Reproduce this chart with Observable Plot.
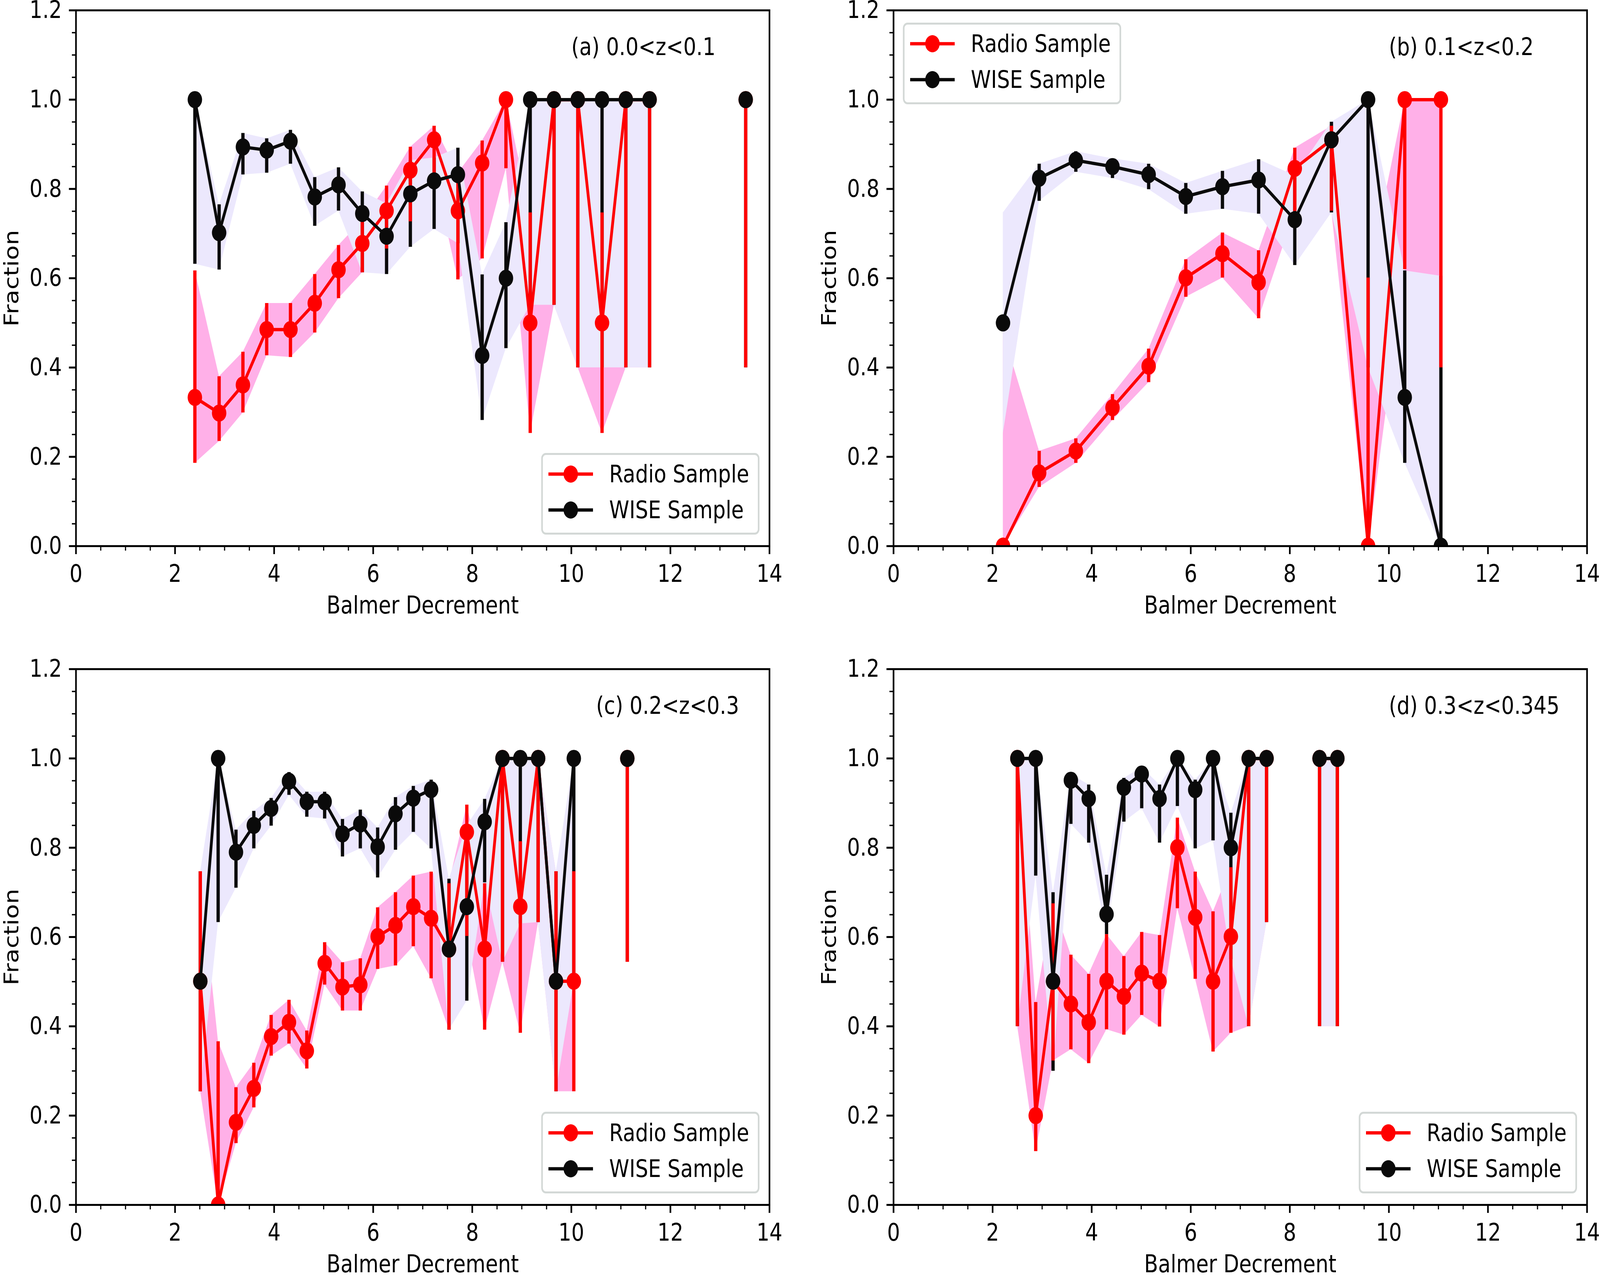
<!DOCTYPE html>
<html>
<head>
<meta charset="utf-8">
<script src="https://cdn.jsdelivr.net/npm/d3@7"></script>
<script src="https://cdn.jsdelivr.net/npm/@observablehq/plot@0.6"></script>
<style>
  html, body { margin: 0; padding: 0; background: #fff; overflow: hidden; }
  #viewport { position: relative; overflow: hidden; width: 4875px; height: 3265px; }
  #figure { position: absolute; left: 0; top: 0; width: 4875px; height: 3265px; overflow: hidden;
            font-family: "DejaVu Sans", sans-serif; transform-origin: 0 0; }
  .panel { position: absolute; }
  .panel svg { max-width: none; display: block; }
  .legend { position: absolute; box-sizing: border-box; width: 665px; height: 209px;
            border: 5px solid #d3d8d6; border-radius: 14px; background: rgba(255,255,255,0.85); }
  .legend .row { position: absolute; left: 17px; height: 80px; display: flex; align-items: center; }
  .legend .row span { margin-left: 49px; font-size: 62px; line-height: 1; color: #000; white-space: nowrap; }
</style>
</head>
<body>
<div id="viewport"><div id="figure"></div></div>
<script>
/* ---- data ---- */

// (a) 0.0<z<0.1
const aX        = [2.40, 2.89, 3.37, 3.85, 4.33, 4.82, 5.30, 5.78, 6.27, 6.75, 7.23, 7.71, 8.20, 8.68, 9.17, 9.65, 10.13, 10.62, 11.10, 11.58, 12.07, 12.55, 13.04, 13.52];
const aRadio    = [0.333, 0.298, 0.361, 0.485, 0.485, 0.544, 0.619, 0.678, 0.751, 0.842, 0.910, 0.751, 0.858, 1.0, 0.5, 1.0, 1.0, 0.5, 1.0, 1.0, null, null, null, 1.0];
const aRadioLo  = [0.186, 0.235, 0.299, 0.427, 0.423, 0.478, 0.555, 0.613, 0.666, 0.727, 0.836, 0.597, 0.644, 0.846, 0.253, 0.54, 0.40, 0.253, 0.40, 0.40, null, null, null, 0.40];
const aRadioHi  = [0.617, 0.380, 0.435, 0.544, 0.544, 0.609, 0.674, 0.730, 0.807, 0.894, 0.941, 0.836, 0.908, 1.0, 0.747, 1.0, 1.0, 0.747, 1.0, 1.0, null, null, null, 1.0];
const aWise     = [1.0, 0.702, 0.894, 0.887, 0.907, 0.782, 0.809, 0.745, 0.694, 0.789, 0.818, 0.832, 0.427, 0.600, 1.0, 1.0, 1.0, 1.0, 1.0, 1.0, null, null, null, 1.0];
const aWiseLo   = [0.632, 0.619, 0.832, 0.836, 0.856, 0.717, 0.751, 0.613, 0.609, 0.670, 0.710, 0.678, 0.282, 0.443, 0.54, 0.54, 0.40, 0.40, 0.40, 0.40, null, null, null, 0.40];
const aWiseHi   = [1.0, 0.765, 0.925, 0.913, 0.932, 0.826, 0.848, 0.794, 0.767, 0.864, 0.870, 0.892, 0.608, 0.725, 1.0, 1.0, 1.0, 1.0, 1.0, 1.0, null, null, null, 1.0];

// (b) 0.1<z<0.2
const bX        = [2.21, 2.94, 3.68, 4.42, 5.15, 5.90, 6.64, 7.37, 8.10, 8.84, 9.58, 10.32, 11.05];
const bRadio    = [0.0, 0.164, 0.213, 0.310, 0.403, 0.601, 0.655, 0.591, 0.846, 0.910, 0.0, 1.0, 1.0];
const bRadioLo  = [0.0, 0.132, 0.186, 0.282, 0.367, 0.558, 0.601, 0.510, 0.75, 0.751, 0.0, 0.62, 0.40];
const bRadioHi  = [0.48, 0.213, 0.241, 0.340, 0.442, 0.642, 0.702, 0.662, 0.892, 0.941, 0.601, 1.0, 1.0];
const bWise     = [0.5, 0.824, 0.864, 0.850, 0.832, 0.783, 0.805, 0.820, 0.731, 0.910, 1.0, 0.333, 0.0];
const bWiseLo   = [0.253, 0.773, 0.838, 0.824, 0.799, 0.744, 0.755, 0.744, 0.629, 0.747, 0.40, 0.186, 0.0];
const bWiseHi   = [0.747, 0.856, 0.884, 0.868, 0.856, 0.813, 0.840, 0.866, 0.83, 0.95, 1.0, 0.617, 0.605];
const bNoBar    = [2.21];   // first bin: shaded band only, no error bars

// (c) 0.2<z<0.3
const cX        = [2.51, 2.87, 3.23, 3.59, 3.94, 4.30, 4.66, 5.02, 5.38, 5.74, 6.09, 6.45, 6.81, 7.17, 7.53, 7.89, 8.25, 8.61, 8.97, 9.33, 9.69, 10.05, 10.41, 10.77, 11.13];
const cRadio    = [0.501, 0.0, 0.185, 0.261, 0.377, 0.409, 0.345, 0.541, 0.488, 0.493, 0.601, 0.626, 0.668, 0.642, 0.573, 0.835, 0.573, 1.0, 0.668, 1.0, 0.501, 0.501, null, null, 1.0];
const cRadioLo  = [0.254, 0.0, 0.138, 0.218, 0.334, 0.361, 0.305, 0.493, 0.435, 0.435, 0.528, 0.536, 0.579, 0.507, 0.392, 0.602, 0.392, 0.544, 0.385, 0.633, 0.254, 0.254, null, null, 0.544];
const cRadioHi  = [0.747, 0.366, 0.263, 0.318, 0.425, 0.459, 0.390, 0.588, 0.543, 0.552, 0.666, 0.700, 0.737, 0.746, 0.720, 0.896, 0.720, 1.0, 0.814, 1.0, 0.747, 0.747, null, null, 1.0];
const cWise     = [0.501, 1.0, 0.790, 0.850, 0.888, 0.949, 0.903, 0.903, 0.831, 0.853, 0.802, 0.876, 0.911, 0.930, 0.573, 0.668, 0.858, 1.0, 1.0, 1.0, 0.501, 1.0, null, null, 1.0];
const cWiseLo   = [0.254, 0.633, 0.710, 0.798, 0.849, 0.918, 0.869, 0.865, 0.780, 0.798, 0.733, 0.795, 0.835, 0.798, 0.392, 0.457, 0.722, 0.544, 0.63, 0.633, 0.254, 0.50, null, null, 0.544];
const cWiseHi   = [0.747, 1.0, 0.840, 0.882, 0.911, 0.969, 0.925, 0.925, 0.864, 0.885, 0.845, 0.913, 0.938, 0.952, 0.730, 0.85, 0.909, 1.0, 1.0, 1.0, 0.747, 1.0, null, null, 1.0];

// (d) 0.3<z<0.345
const dX        = [2.50, 2.87, 3.22, 3.58, 3.94, 4.30, 4.65, 5.01, 5.37, 5.73, 6.09, 6.45, 6.81, 7.17, 7.53, 7.88, 8.24, 8.60, 8.96];
const dRadio    = [1.0, 0.200, 0.501, 0.450, 0.409, 0.501, 0.467, 0.519, 0.501, 0.800, 0.644, 0.501, 0.601, 1.0, 1.0, null, null, 1.0, 1.0];
const dRadioLo  = [0.40, 0.120, 0.323, 0.348, 0.317, 0.393, 0.381, 0.425, 0.399, 0.664, 0.506, 0.343, 0.385, 0.40, 0.633, null, null, 0.40, 0.40];
const dRadioHi  = [1.0, 0.454, 0.675, 0.560, 0.517, 0.606, 0.557, 0.611, 0.604, 0.867, 0.746, 0.657, 0.756, 1.0, 1.0, null, null, 1.0, 1.0];
const dWise     = [1.0, 1.0, 0.501, 0.951, 0.910, 0.651, 0.935, 0.965, 0.910, 1.0, 0.930, 1.0, 0.800, 1.0, 1.0, null, null, 1.0, 1.0];
const dWiseLo   = [0.40, 0.737, 0.30, 0.853, 0.811, 0.606, 0.858, 0.888, 0.811, 0.893, 0.798, 0.816, 0.55, 0.40, 0.633, null, null, 0.40, 0.40];
const dWiseHi   = [1.0, 1.0, 0.70, 0.965, 0.941, 0.739, 0.956, 0.98, 0.941, 1.0, 0.952, 1.0, 0.878, 1.0, 1.0, null, null, 1.0, 1.0];

// ticks
const majorX = [0, 2, 4, 6, 8, 10, 12, 14];
const minorX = d3.range(0, 14.001, 0.5);
const majorY = [0, 0.2, 0.4, 0.6, 0.8, 1.0, 1.2];
const minorY = d3.range(0, 1.2001, 0.05);

const seriesNames = ["Radio Sample", "WISE Sample"];

/* ---- layout (px, in the 4875x3265 design space) ---- */
const FW = 2113, FH = 1372;
const mL = 231, mR = 90, mT = 23, mB = 200;
const RED = "#ff0000", BLACK = "#0a0a0a", PINK = "#ffb0e8", LAVENDER = "#ece8fd";

const panels = [
  { x: aX, radio: aRadio, radioLo: aRadioLo, radioHi: aRadioHi, wise: aWise, wiseLo: aWiseLo, wiseHi: aWiseHi,
    noBar: [], title: "(a) 0.0<z<0.1", titleX: 10, legend: "lower right", left: 0, top: 3 },
  { x: bX, radio: bRadio, radioLo: bRadioLo, radioHi: bRadioHi, wise: bWise, wiseLo: bWiseLo, wiseHi: bWiseHi,
    noBar: bNoBar, title: "(b) 0.1<z<0.2", titleX: 10, legend: "upper left", left: 2491, top: 3 },
  { x: cX, radio: cRadio, radioLo: cRadioLo, radioHi: cRadioHi, wise: cWise, wiseLo: cWiseLo, wiseHi: cWiseHi,
    noBar: [], title: "(c) 0.2<z<0.3", titleX: 10.5, legend: "lower right", left: 0, top: 1690 },
  { x: dX, radio: dRadio, radioLo: dRadioLo, radioHi: dRadioHi, wise: dWise, wiseLo: dWiseLo, wiseHi: dWiseHi,
    noBar: [], title: "(d) 0.3<z<0.345", titleX: 10, legend: "lower right", left: 2491, top: 1690 }
];

function renderPanel(p) {
  const rows = p.x.map((x, i) => ({
    x,
    radio: p.radio[i], radioLo: p.radioLo[i], radioHi: p.radioHi[i],
    wise: p.wise[i], wiseLo: p.wiseLo[i], wiseHi: p.wiseHi[i]
  }));
  const bars = rows.filter(d => !p.noBar.includes(d.x));

  return Plot.plot({
    width: mL + FW + mR,
    height: mT + FH + mB,
    marginLeft: mL, marginRight: mR, marginTop: mT, marginBottom: mB,
    style: { fontFamily: "'DejaVu Sans', sans-serif", fontSize: "62px", color: "#000", background: "transparent", overflow: "visible", maxWidth: "none" },
    x: { domain: [0, 14] },
    y: { domain: [0, 1.2] },
    marks: [
      Plot.areaY(rows, { x: "x", y1: "radioLo", y2: "radioHi", fill: PINK, clip: true }),
      Plot.areaY(rows, { x: "x", y1: "wiseLo", y2: "wiseHi", fill: LAVENDER, clip: true }),
      Plot.ruleX(bars.filter(d => d.wise != null), { x: "x", y1: "wiseLo", y2: "wiseHi", stroke: BLACK, strokeWidth: 10, clip: true }),
      Plot.ruleX(bars.filter(d => d.radio != null), { x: "x", y1: "radioLo", y2: "radioHi", stroke: RED, strokeWidth: 10, clip: true }),
      Plot.line(rows, { x: "x", y: "radio", stroke: RED, strokeWidth: 8.5, clip: true }),
      Plot.dot(rows.filter(d => d.radio != null), { x: "x", y: "radio", r: 22, fill: RED, clip: true }),
      Plot.line(rows, { x: "x", y: "wise", stroke: BLACK, strokeWidth: 8.5, clip: true }),
      Plot.dot(rows.filter(d => d.wise != null), { x: "x", y: "wise", r: 22, fill: BLACK, clip: true }),
      Plot.frame({ stroke: "#000", strokeWidth: 5 }),
      Plot.axisX({ ticks: minorX, tickSize: 12, strokeWidth: 3.5, tickFormat: () => "", label: null }),
      Plot.axisX({ ticks: majorX, tickSize: 21, tickPadding: 26, strokeWidth: 5, tickFormat: d => String(d), label: null }),
      Plot.axisY({ ticks: minorY, tickSize: 12, strokeWidth: 3.5, tickFormat: () => "", label: null }),
      Plot.axisY({ ticks: majorY, tickSize: 21, tickPadding: 22, strokeWidth: 5, tickFormat: d3.format(".1f"), label: null }),
      Plot.text([p.title], { x: p.titleX, y: 1.1, text: d => d, textAnchor: "start", lineAnchor: "bottom", fill: "#000" }),
      Plot.text(["Balmer Decrement"], { frameAnchor: "bottom", text: d => d, dy: 153, textAnchor: "middle", lineAnchor: "middle", fill: "#000" }),
      Plot.text(["Fraction"], { frameAnchor: "left", text: d => d, dx: -195, rotate: -90, textAnchor: "middle", lineAnchor: "middle", fill: "#000" })
    ]
  });
}

function legendBox(p) {
  const frameLeft = p.left + mL, frameTop = p.top + mT;
  const box = document.createElement("div");
  box.className = "legend";
  if (p.legend === "upper left") {
    box.style.left = (frameLeft + 29) + "px";
    box.style.top = (frameTop + 32) + "px";
  } else {
    box.style.left = (frameLeft + FW - 30 - 665) + "px";
    box.style.top = (frameTop + FH - 29 - 209) + "px";
  }
  [[seriesNames[0], RED, 49], [seriesNames[1], BLACK, 141]].forEach(([name, color, cy]) => {
    const row = document.createElement("div");
    row.className = "row";
    row.style.top = (cy - 40) + "px";
    row.innerHTML =
      `<svg width="136" height="80" viewBox="0 0 136 80">` +
      `<line x1="0" x2="136" y1="40" y2="40" stroke="${color}" stroke-width="8.5"/>` +
      `<circle cx="68" cy="40" r="22" fill="${color}"/></svg>` +
      `<span>${name}</span>`;
    box.appendChild(row);
  });
  return box;
}

const fig = document.getElementById("figure");
panels.forEach(p => {
  const wrap = document.createElement("div");
  wrap.className = "panel";
  wrap.style.left = p.left + "px";
  wrap.style.top = p.top + "px";
  wrap.style.width = (mL + FW + mR) + "px";
  wrap.appendChild(renderPanel(p));
  fig.appendChild(wrap);
  fig.appendChild(legendBox(p));
});

// the browser window may be narrower than 4875 px: stretch the design to fill it exactly
const kx = (window.innerWidth || 4875) / 4875;
const ky = (window.innerHeight || 3265) / 3265;
const vp = document.getElementById("viewport");
vp.style.width = (4875 * kx) + "px";
vp.style.height = (3265 * ky) + "px";
fig.style.transform = `scale(${kx}, ${ky})`;
</script>
</body>
</html>
